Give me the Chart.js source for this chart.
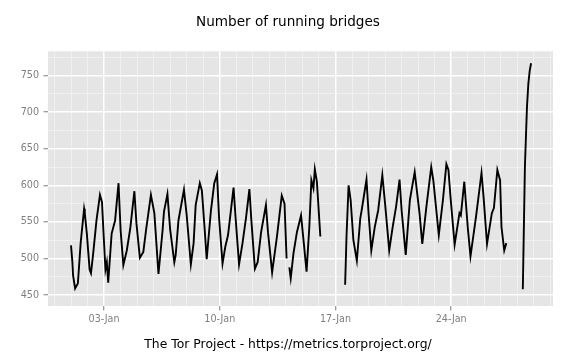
<!DOCTYPE html>
<html>
<head>
<meta charset="utf-8">
<script src="https://cdn.jsdelivr.net/npm/chart.js@4.4.1/dist/chart.umd.min.js"></script>
<style>
  body { margin: 0; background: #fff; }
</style>
</head>
<body>
<canvas id="bridges_plot" width="576" height="360"></canvas>
<script>
// hours since 01-Jan 00:00 (null = gap in the line)
const hours = [0, 2, 3, 6, 10, 14, 19, 20, 23, 27, 29, 32, 37, 42, 45, 47, 50, 52, 54, 59, 64, 69, 72, 76, 81, 86, 92, 95,
    100, 105, 109, 116, 121, 127, 133, 135, 140, 144, 150, 152, 156, 164,
    168, 174, 178, 181, 187, 190, 194, 197, 203, 208, 212, 215, 220, 224, 228, 236, 239, 244, 249, 254, 259, 262,
    267, 271, 276, 283, 286, 292, 299, 306, 310, 313,
    315,
    317, 319, 323, 328, 334, 338, 342, 346, 349, 352, 354, 357, 362,
    380,
    398, 400, 403, 406, 410, 415, 420, 422, 429, 432, 436, 441, 446, 452, 456, 462, 467, 472, 477, 480, 486, 492,
    499, 506, 510, 516, 523, 526, 534, 540, 545, 548, 551, 557, 564, 566, 571, 576, 580, 588, 596, 599, 604, 611,
    614, 619, 623, 625, 629, 632,
    644,
    656, 659, 662, 664, 666, 668];

const bridges = [518, 495, 477, 459, 466, 521, 568, 562, 534, 485, 480, 505, 552, 587, 577, 539, 485, 495, 467, 534, 552, 603, 539, 491, 511, 541, 592, 548,
    501, 509, 539, 587, 562, 479, 539, 564, 588, 539, 495, 505, 552, 594,
    559, 492, 521, 573, 603, 593, 541, 499, 564, 603, 615, 555, 493, 516, 532, 597, 555, 492, 521, 555, 595, 550,
    486, 495, 536, 573, 536, 481, 530, 586, 575, 500,
    null,
    488, 473, 507, 536, 559, 521, 482, 543, 607, 596, 622, 605, 530,
    null,
    464, 530, 600, 580, 525, 497, 555, 566, 608, 562, 511, 543, 566, 614, 575, 511, 543, 571, 608, 566, 505, 580,
    618, 562, 520, 571, 625, 607, 532, 580, 629, 621, 584, 519, 562, 559, 605, 543, 503, 557, 617, 584, 520, 562,
    569, 621, 607, 543, 511, 521,
    null,
    458, 625, 707, 739, 757, 767];

// axis breaks
const dayTicks = [];
for (let h = -24; h <= 696; h += 24) dayTicks.push(h);
const majorHours = [48, 216, 384, 552];
const majorLabels = ['03-Jan', '10-Jan', '17-Jan', '24-Jan'];
const yTicks = [450, 475, 500, 525, 550, 575, 600, 625, 650, 675, 700, 725, 750, 775];

// grey panel behind the grid
const panelBg = {
    id: 'panelBg',
    beforeDraw(chart) {
        const { ctx, chartArea: a } = chart;
        ctx.save();
        ctx.fillStyle = '#E5E5E5';
        ctx.fillRect(a.left, a.top, a.right - a.left, a.bottom - a.top);
        ctx.restore();
    }
};

const isMajorX = v => majorHours.includes(v);
const isMajorY = v => v % 50 === 0;

new Chart(document.getElementById('bridges_plot').getContext('2d'), {
    type: 'line',
    data: {
        datasets: [{
            label: 'Running bridges',
            data: hours.map((h, i) => ({ x: h, y: bridges[i] })),
            borderColor: '#000',
            borderWidth: 1.9,
            pointRadius: 0,
            tension: 0,
            spanGaps: false,
            fill: false
        }]
    },
    plugins: [panelBg],
    options: {
        responsive: false,
        animation: false,
        layout: { padding: 0 },
        plugins: {
            legend: { display: false },
            tooltip: { enabled: false },
            title: {
                display: true,
                text: 'Number of running bridges',
                color: '#000',
                font: { family: 'DejaVu Sans', size: 13.6, weight: 'normal' },
                padding: { top: 14, bottom: 21 }
            },
            subtitle: {
                display: true,
                position: 'bottom',
                text: 'The Tor Project - https://metrics.torproject.org/',
                color: '#000',
                font: { family: 'DejaVu Sans', size: 12.4, weight: 'normal' },
                padding: { top: 0, bottom: 8 }
            }
        },
        scales: {
            x: {
                type: 'linear',
                min: -33.4,
                max: 699.8,
                afterBuildTicks: scale => { scale.ticks = dayTicks.map(v => ({ value: v })); },
                afterFit: scale => { scale.height = 31.1; },
                border: { display: false },
                grid: {
                    color: ctx => isMajorX(ctx.tick.value) ? '#FFFFFF' : '#F2F2F2',
                    lineWidth: ctx => isMajorX(ctx.tick.value) ? 1.5 : 0.8,
                    tickColor: ctx => isMajorX(ctx.tick.value) ? '#7F7F7F' : 'rgba(0,0,0,0)',
                    tickLength: 4.5,
                    tickWidth: 1
                },
                ticks: {
                    autoSkip: false,
                    maxRotation: 0,
                    minRotation: 0,
                    padding: 3,
                    color: '#7F7F7F',
                    font: { family: 'DejaVu Sans', size: 9.6 },
                    callback: value => {
                        const i = majorHours.indexOf(value);
                        return i >= 0 ? majorLabels[i] : '';
                    }
                }
            },
            y: {
                type: 'linear',
                min: 435,
                max: 783.3,
                afterBuildTicks: scale => { scale.ticks = yTicks.map(v => ({ value: v })); },
                afterFit: scale => { scale.width = 48; },
                border: { display: false },
                grid: {
                    color: ctx => isMajorY(ctx.tick.value) ? '#FFFFFF' : '#F2F2F2',
                    lineWidth: ctx => isMajorY(ctx.tick.value) ? 1.5 : 0.8,
                    tickColor: ctx => isMajorY(ctx.tick.value) ? '#7F7F7F' : 'rgba(0,0,0,0)',
                    tickLength: 4.5,
                    tickWidth: 1
                },
                ticks: {
                    autoSkip: false,
                    padding: 4.5,
                    color: '#7F7F7F',
                    font: { family: 'DejaVu Sans', size: 9.6 },
                    callback: value => isMajorY(value) ? value : ''
                }
            },
            // empty right margin so the title and caption stay centred on the page
            spacer: {
                type: 'linear',
                position: 'right',
                afterFit: scale => { scale.width = 23; },
                border: { display: false },
                grid: { display: false },
                ticks: { display: false }
            }
        }
    }
});
</script>
</body>
</html>
